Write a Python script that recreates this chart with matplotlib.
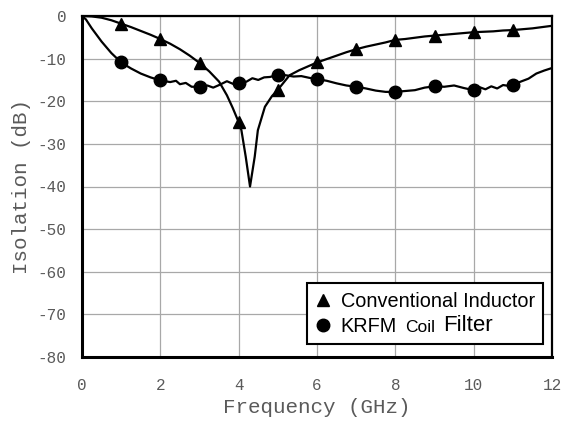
import matplotlib
matplotlib.use("Agg")
import matplotlib.pyplot as plt

plt.rcParams['axes.unicode_minus'] = False

# ---- data ----
conv_freq = [0, 0.25, 0.5, 0.75, 1.0, 1.25, 1.5, 1.75, 2.0, 2.25, 2.5, 2.75, 3.0, 3.25, 3.5,
             3.7, 3.85, 4.0, 4.07, 4.18, 4.29, 4.41, 4.49, 4.67, 4.85, 5.0, 5.15, 5.3, 5.55,
             5.8, 6.0, 6.25, 6.5, 6.75, 7.0, 7.25, 7.5, 7.75, 8.0, 8.25, 8.5, 8.75, 9.0,
             9.25, 9.5, 9.75, 10.0, 10.25, 10.5, 10.75, 11.0, 11.25, 11.5, 11.75, 12.0]
conv_db = [0, -0.1, -0.4, -1.0, -1.8, -2.6, -3.5, -4.4, -5.4, -6.5, -7.8, -9.3, -11.0, -13.0, -15.4,
           -18.6, -21.6, -24.9, -26.8, -33.0, -40.0, -33.0, -26.8, -21.3, -18.8, -17.3, -15.6, -13.9, -12.7,
           -11.7, -10.9, -10.1, -9.3, -8.5, -7.8, -7.2, -6.7, -6.2, -5.6, -5.4, -5.1, -4.8, -4.6,
           -4.4, -4.2, -4.0, -3.8, -3.7, -3.6, -3.4, -3.3, -3.1, -2.9, -2.6, -2.3]

krfm_freq = [0, 0.1, 0.25, 0.5, 0.75, 1.0, 1.25, 1.5, 1.75, 2.0, 2.25, 2.4, 2.5, 2.65, 2.8, 3.0,
             3.2, 3.35, 3.5, 3.7, 3.85, 4.0, 4.2, 4.35, 4.5, 4.65, 4.8, 5.0, 5.2, 5.4, 5.6,
             5.8, 6.0, 6.25, 6.5, 6.75, 7.0, 7.25, 7.5, 7.75, 8.0, 8.25, 8.5, 8.75, 9.0,
             9.25, 9.5, 9.75, 10.0, 10.15, 10.3, 10.45, 10.6, 10.75, 10.9, 11.0, 11.2, 11.4,
             11.6, 11.8, 12.0]
krfm_db = [0, -0.8, -2.9, -6.0, -8.7, -10.9, -12.3, -13.5, -14.4, -15.1, -15.5, -15.2, -16.0, -15.7, -16.6, -16.6,
           -16.3, -16.8, -16.2, -15.3, -15.9, -15.7, -15.4, -14.6, -15.0, -14.4, -14.3, -13.8, -13.9, -14.2, -14.1,
           -14.5, -14.8, -15.2, -15.8, -16.3, -16.6, -17.0, -17.5, -17.8, -17.8, -17.6, -17.4, -16.8, -16.5,
           -16.6, -16.3, -16.9, -17.4, -16.7, -17.2, -16.5, -17.0, -16.2, -16.4, -16.1, -15.4, -14.7,
           -13.5, -12.8, -12.2]

marker_freq = [1, 2, 3, 4, 5, 6, 7, 8, 9, 10, 11]
conv_marker_db = [-1.8, -5.4, -11.0, -24.9, -17.3, -10.9, -7.8, -5.6, -4.6, -3.8, -3.3]
krfm_marker_db = [-10.9, -15.1, -16.6, -15.7, -13.8, -14.8, -16.6, -17.8, -16.5, -17.4, -16.1]

x_ticks = [0, 2, 4, 6, 8, 10, 12]
y_ticks = [0, -10, -20, -30, -40, -50, -60, -70, -80]

# ---- figure ----
fig = plt.figure(figsize=(5.63, 4.22), dpi=100)
ax = fig.add_axes([82/563, 1 - 357/422, 470/563, 341/422])

ax.plot(conv_freq, conv_db, color='black', lw=1.6, zorder=3)
ax.plot(krfm_freq, krfm_db, color='black', lw=1.6, zorder=3)
h1, = ax.plot(marker_freq, conv_marker_db, linestyle='none', marker='^', ms=8.5,
              color='black', zorder=4)
h2, = ax.plot(marker_freq, krfm_marker_db, linestyle='none', marker='o', ms=9,
              color='black', zorder=4)

ax.set_xlim(0, 12)
ax.set_ylim(-80, 0)
ax.set_xticks(x_ticks)
ax.set_yticks(y_ticks)
ax.grid(True, color='#a8a8a8', lw=0.9)
ax.set_axisbelow(True)

mono = 'Liberation Mono'
tick_color = '#5a5a5a'
ax.tick_params(length=0, labelcolor=tick_color, labelsize=11.5)
ax.tick_params(axis='x', pad=15)
ax.tick_params(axis='y', pad=11)
for lab in ax.get_xticklabels() + ax.get_yticklabels():
    lab.set_fontfamily(mono)

ax.set_xlabel('Frequency (GHz)', fontfamily=mono, fontsize=15, color=tick_color, labelpad=4)
ax.set_ylabel('Isolation (dB)', fontfamily=mono, fontsize=15, color=tick_color, labelpad=5)

for s in ax.spines.values():
    s.set_linewidth(1.6)
    s.set_color('black')
ax.spines['left'].set_linewidth(2.2)
ax.spines['bottom'].set_linewidth(2.2)

leg = ax.legend([h1, h2], ['Conventional Inductor', 'KRFM'],
                loc='lower right', bbox_to_anchor=(0.981, 0.038),
                prop={'family': 'Liberation Sans', 'size': 14.3},
                frameon=True, fancybox=False, framealpha=1, edgecolor='black',
                handlelength=0.7, handletextpad=0.55, borderpad=0.42,
                labelspacing=0.3, borderaxespad=0)
leg.get_frame().set_linewidth(1.5)
leg.set_zorder(10)
t2 = leg.get_texts()[1]
t2.set_fontsize(14.3)

a1 = ax.annotate('Coil', xy=(1, 0), xycoords=t2, xytext=(6, 0.3), textcoords='offset points',
                 ha='left', va='bottom', fontsize=12.5, fontfamily='Liberation Sans', zorder=11)
a2 = ax.annotate('Filter', xy=(1, 0), xycoords=a1, xytext=(6, -0.5), textcoords='offset points',
                 ha='left', va='bottom', fontsize=16, fontfamily='Liberation Sans', zorder=11)

fig.savefig('out.png', dpi=100)
